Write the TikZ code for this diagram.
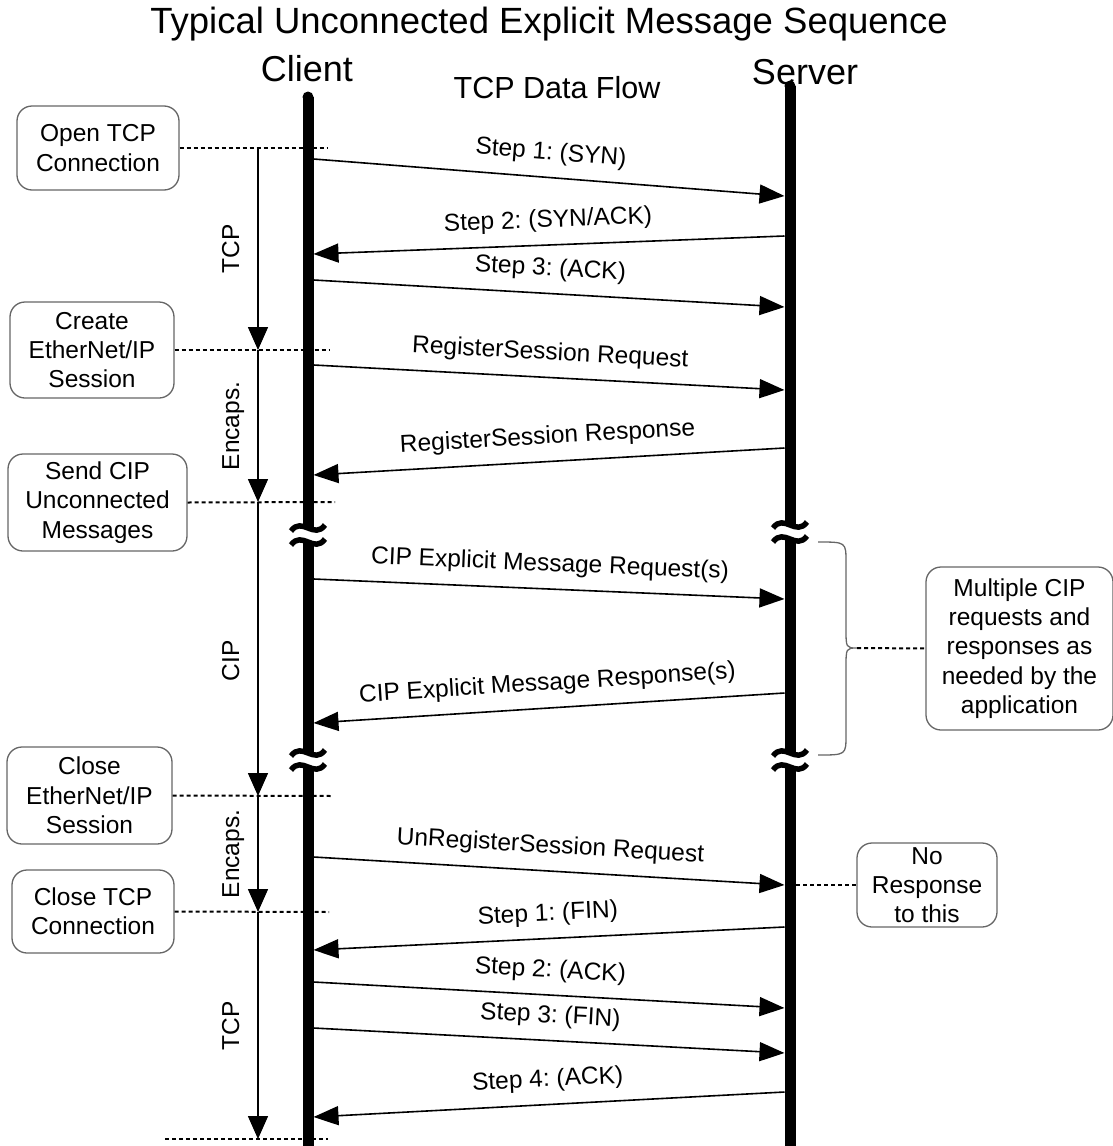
\documentclass[tikz,border=0pt]{standalone}
\usepackage{fontspec}
\setmainfont{Liberation Sans}
\usetikzlibrary{arrows.meta,positioning}
\frenchspacing

\begin{document}
\begin{tikzpicture}[x=1pt,y=-1pt,
  every node/.style={font=\fontsize{24.5}{29.3}\selectfont},
  life/.style={line width=11pt},
  brk/.style={line width=5.5pt},
  msg/.style={line width=1.6pt,-{Triangle[length=25pt,width=19pt]}},
  lbl/.style={midway,sloped,above=12pt,inner sep=0pt,text height=18pt,text depth=5pt},
  note/.style={draw=black!60,line width=1.3pt,rounded corners=15pt,align=center,inner sep=0pt},
  dot/.style={line width=2pt,dash pattern=on 4pt off 3pt},
  flow/.style={line width=1.6pt,-{Triangle[length=23pt,width=20pt]}},
  vlbl/.style={rotate=90,anchor=south,yshift=13pt,inner sep=0pt,text height=18pt,text depth=5pt},
  brace/.style={draw=black!60,line width=1.3pt}]
\useasboundingbox (0,0) rectangle (1113,1146);

\def\xc{308}
\def\xs{790}
\def\xce{313.5}
\def\xse{784.5}
\def\xv{258}

\node (title) at (549,24) [font=\fontsize{36.5}{40}\selectfont] {Typical Unconnected Explicit Message Sequence};
\node (client) at (307,69) [font=\fontsize{36}{40}\selectfont] {Client};
\node (server) at (805,72) [font=\fontsize{36}{40}\selectfont] {Server};
\node (flowtitle) at (557,88) [font=\fontsize{30.5}{34}\selectfont] {TCP Data Flow};

\node[note,minimum width=162pt,minimum height=84pt] (open) at (98,148) {Open TCP\\Connection};
\node[note,minimum width=164pt,minimum height=96pt] (create) at (92,350) {Create\\EtherNet/IP\\Session};
\node[note,minimum width=179pt,minimum height=97pt] (send) at (97.5,502.5) {Send CIP\\Unconnected\\Messages};
\node[note,minimum width=165pt,minimum height=97pt] (closeeip) at (89.5,795.5) {Close\\EtherNet/IP\\Session};
\node[note,minimum width=162pt,minimum height=83pt] (closetcp) at (93,911.5) {Close TCP\\Connection};
\node[note,minimum width=187pt,minimum height=163pt] (multi) at (1019.5,648.5) {Multiple CIP\\requests and\\responses as\\needed by the\\application};
\node[note,minimum width=140pt,minimum height=84pt] (noresp) at (927,885) {No\\Response\\to this};

% lifelines
\coordinate (ct) at (\xc,97);
\coordinate (ca) at (\xc,528);
\coordinate (cb) at (\xc,542);
\coordinate (cc) at (\xc,753);
\coordinate (cd) at (\xc,767);
\coordinate (ce) at (\xc,1150);
\coordinate (st) at (\xs,86);
\coordinate (sa) at (\xs,525);
\coordinate (sb) at (\xs,539);
\coordinate (sc) at (\xs,753);
\coordinate (sd) at (\xs,767);
\coordinate (se) at (\xs,1150);

\fill (ct) circle (5.5pt);
\fill (st) circle (5.5pt);
\draw[life] (ct) -- (ca);
\draw[life] (cb) -- (cc);
\draw[life] (cd) -- (ce);
\draw[life] (st) -- (sa);
\draw[life] (sb) -- (sc);
\draw[life] (sd) -- (se);

\foreach \x/\y in {\xc/528,\xc/542,\xc/753,\xc/767,\xs/525,\xs/539,\xs/753,\xs/767}
  \draw[brk] (\x-17,\y+3) .. controls (\x-6,\y-12) and (\x+6,\y+12) .. (\x+17,\y-3);

% messages
\coordinate (c1) at (\xce,159);   \coordinate (s1) at (\xse,196);
\coordinate (s2) at (\xse,236);   \coordinate (c2) at (\xce,254);
\coordinate (c3) at (\xce,280);   \coordinate (s3) at (\xse,307);
\coordinate (c4) at (\xce,365);   \coordinate (s4) at (\xse,390);
\coordinate (s5) at (\xse,448);   \coordinate (c5) at (\xce,475);
\coordinate (c6) at (\xce,579);   \coordinate (s6) at (\xse,599);
\coordinate (s7) at (\xse,693);   \coordinate (c7) at (\xce,723);
\coordinate (c8) at (\xce,857);   \coordinate (s8) at (\xse,885);
\coordinate (s9) at (\xse,927);   \coordinate (c9) at (\xce,950);
\coordinate (c10) at (\xce,982);  \coordinate (s10) at (\xse,1008);
\coordinate (c11) at (\xce,1028); \coordinate (s11) at (\xse,1053);
\coordinate (s12) at (\xse,1092); \coordinate (c12) at (\xce,1117);

\draw[msg] (c1) -- node[lbl] {Step 1: (SYN)} (s1);
\draw[msg] (s2) -- node[lbl] {Step 2: (SYN/ACK)} (c2);
\draw[msg] (c3) -- node[lbl] {Step 3: (ACK)} (s3);
\draw[msg] (c4) -- node[lbl] {RegisterSession Request} (s4);
\draw[msg] (s5) -- node[lbl] {RegisterSession Response} (c5);
\draw[msg] (c6) -- node[lbl] {CIP Explicit Message Request(s)} (s6);
\draw[msg] (s7) -- node[lbl] {CIP Explicit Message Response(s)} (c7);
\draw[msg] (c8) -- node[lbl] {UnRegisterSession Request} (s8);
\draw[msg] (s9) -- node[lbl] {Step 1: (FIN)} (c9);
\draw[msg] (c10) -- node[lbl] {Step 2: (ACK)} (s10);
\draw[msg] (c11) -- node[lbl] {Step 3: (FIN)} (s11);
\draw[msg] (s12) -- node[lbl] {Step 4: (ACK)} (c12);

% phases
\coordinate (v0) at (\xv,148);
\coordinate (v1) at (\xv,350);
\coordinate (v2) at (\xv,502);
\coordinate (v3) at (\xv,796);
\coordinate (v4) at (\xv,912);
\coordinate (v5) at (\xv,1139);

\draw[flow] (v0) -- node[midway,vlbl] {TCP} (v1);
\draw[flow] (v1) -- node[midway,vlbl] {Encaps.} (v2);
\draw[flow] (v2) -- node[pos=0.54,vlbl] {CIP} (v3);
\draw[flow] (v3) -- node[midway,vlbl] {Encaps.} (v4);
\draw[flow] (v4) -- node[midway,vlbl] {TCP} (v5);

\coordinate (d1) at (328,148);
\coordinate (d2) at (330,350);
\coordinate (d3) at (335,502);
\coordinate (d4) at (333,796);
\coordinate (d5) at (329,912);
\coordinate (e0) at (165,1139);
\coordinate (e1) at (328,1139);

\draw[dot] (open.east) -- (d1);
\draw[dot] (create.east) -- (d2);
\draw[dot] (send.east) -- (d3);
\draw[dot] (closeeip.east) -- (d4);
\draw[dot] (closetcp.east) -- (d5);
\draw[dot] (e0) -- (e1);

% notes on the right
\coordinate (bt) at (818,542);
\coordinate (bm) at (857,648);
\coordinate (bb) at (818,755);
\draw[brace] (bt) .. controls (846,542) .. (846,562) -- (846,628)
  .. controls (846,648) .. (bm) .. controls (846,648) .. (846,668)
  -- (846,735) .. controls (846,755) .. (bb);
\draw[dot] (bm) -- (multi.west);

\coordinate (n0) at (796,885);
\draw[dot] (n0) -- (noresp.west);

\end{tikzpicture}
\end{document}
